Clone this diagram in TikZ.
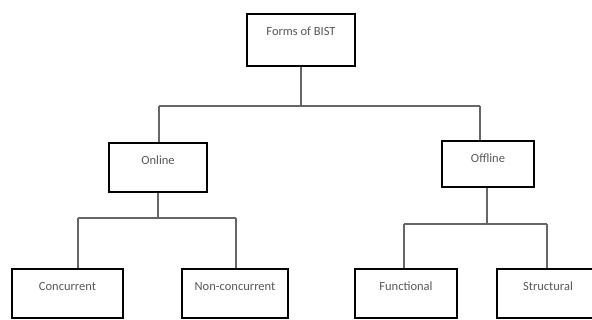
\documentclass[tikz,border=0pt]{standalone}
\usepackage{fontspec}
\setmainfont{Carlito}
\begin{document}
\begin{tikzpicture}[x=1pt,y=-1pt,
  box/.style={draw=black, line width=2.6pt, inner sep=0pt, fill=white},
  lbl/.style={anchor=center, yshift=-18.5pt, font=\fontsize{12.5}{14}\selectfont, text=black!65},
  conn/.style={draw=black!60, line width=1.3pt}]
\useasboundingbox (0,0) rectangle (592,320);
\clip (0,0) rectangle (592,320);
% boxes
\node[box, minimum width=108pt, minimum height=52pt, label={[lbl]north:Forms of BIST}] (bist) at (301,40) {};
\node[box, minimum width=98pt, minimum height=49pt, label={[lbl]north:Online}] (online) at (158,167.5) {};
\node[box, minimum width=92pt, minimum height=46pt, label={[lbl]north:Offline}] (offline) at (488,164) {};
\node[box, minimum width=111pt, minimum height=49pt, label={[lbl]north:Concurrent}] (conc) at (67.5,293.5) {};
\node[box, minimum width=106pt, minimum height=49pt, label={[lbl]north:Non-concurrent}] (nonc) at (235,293.5) {};
\node[box, minimum width=102pt, minimum height=49pt, label={[lbl]north:Functional}] (func) at (406,293.5) {};
\node[box, minimum width=102pt, minimum height=49pt, label={[lbl]north:Structural}] (struc) at (548,293.5) {};
% junctions
\coordinate (j0) at (301,106);
\coordinate (jl) at (159,106);
\coordinate (jr) at (480,106);
\coordinate (jo) at (158,218);
\coordinate (jol) at (78,218);
\coordinate (jor) at (236,218);
\coordinate (jf) at (487,224);
\coordinate (jfl) at (404,224);
\coordinate (jfr) at (547,224);
% connectors
\draw[conn] (bist.south) -- (j0);
\draw[conn] (jl) -- (jr);
\draw[conn] (jl) -- (jl |- online.north);
\draw[conn] (jr) -- (jr |- offline.north);
\draw[conn] (online.south) -- (jo);
\draw[conn] (jol) -- (jor);
\draw[conn] (jol) -- (jol |- conc.north);
\draw[conn] (jor) -- (jor |- nonc.north);
\draw[conn] (jf |- offline.south) -- (jf);
\draw[conn] (jfl) -- (jfr);
\draw[conn] (jfl) -- (jfl |- func.north);
\draw[conn] (jfr) -- (jfr |- struc.north);
\end{tikzpicture}
\end{document}
